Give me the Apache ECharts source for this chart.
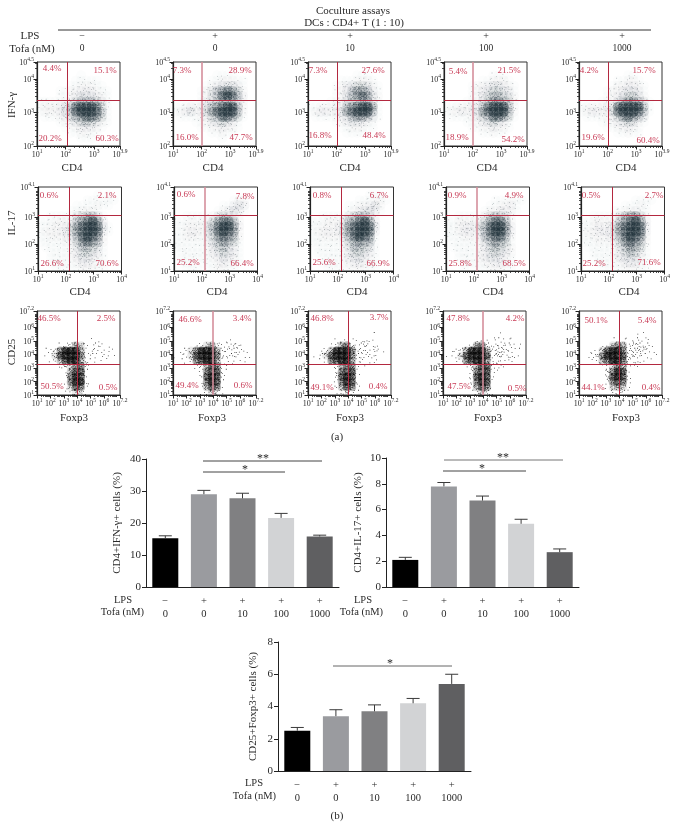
<!DOCTYPE html>
<html><head><meta charset="utf-8"><style>html,body{margin:0;padding:0;background:#fff}#c{width:678px;height:838px}</style>
<script src="https://cdn.jsdelivr.net/npm/echarts@6/dist/echarts.min.js"></script></head><body><div id="c"></div>
<script>
// ---- header / categories
const lpsLabels = ['−','+','+','+','+'];
const tofaLabels = ['0','0','10','100','1000'];
// ---- bar values
const ifnMeans = [15.2,29.0,27.7,21.6,15.8];
const ifnErrors = [0.8,1.2,1.6,1.4,0.4];
const il17Means = [2.1,7.8,6.7,4.9,2.7];
const il17Errors = [0.2,0.3,0.35,0.35,0.25];
const foxMeans = [2.5,3.4,3.7,4.2,5.4];
const foxErrors = [0.2,0.4,0.4,0.3,0.6];
// ---- quadrant percentages [UL, UR, LL, LR]
const ifnPct = [['4.4%','15.1%','20.2%','60.3%'],['7.3%','28.9%','16.0%','47.7%'],['7.3%','27.6%','16.8%','48.4%'],['5.4%','21.5%','18.9%','54.2%'],['4.2%','15.7%','19.6%','60.4%']];
const il17Pct = [['0.6%','2.1%','26.6%','70.6%'],['0.6%','7.8%','25.2%','66.4%'],['0.8%','6.7%','25.6%','66.9%'],['0.9%','4.9%','25.8%','68.5%'],['0.5%','2.7%','25.2%','71.6%']];
const foxPct = [['46.5%','2.5%','50.5%','0.5%'],['46.6%','3.4%','49.4%','0.6%'],['46.8%','3.7%','49.1%','0.4%'],['47.8%','4.2%','47.5%','0.5%'],['50.1%','5.4%','44.1%','0.4%']];
// ---- gates on log10 axes
const ifnGateX = [2.05,2.01,2.01,2.01,2.01], ifnGateY = [3.37,3.37,3.37,3.37,3.37];
const il17GateX = [2.14,2.12,2.12,2.12,2.12], il17GateY = [3.04,3.04,3.04,3.04,3.04];
const foxGateX = [3.99,3.99,3.99,3.99,3.99], foxGateY = [3.29,3.29,3.29,3.29,3.29];
// ---- density of events per cell (0-9); top row first
const ifnDensity = [
['0000000000000000','0000000000000000','0000000010000000','0000000111110000','0000001122211000','0000112233321100','0000112344432100','1111123566654100','1222346899985100','1222346899986100','0111235678875100','0000123456542100','0000011233321000','0000001122110000','0000000011100000','0000000000000000'],
['0000000000000000','0000000000000000','0000000011110000','0000000112221100','0000001234443100','0000012467875200','0000012468986300','0000013456654200','1123234678996200','1234235789996200','0111123568875100','0000112345431000','0000011223221000','0000000112110000','0000000001000000','0000000000000000'],
['0000000000000000','0000000000000000','0000000001110000','0000001112221000','0000012345542100','0000012367763100','0000012467874200','0000112455663100','1122233678997100','1233234789996100','0111123467764100','0000012344321000','0000001122211000','0000000111100000','0000000000000000','0000000000000000'],
['0000000000000000','0000000000000000','0000000001110000','0000000112221000','0000012234432100','0000012345543100','0000012356654200','0000112457765200','1122233689996200','1223234789996200','0111123568875100','0000112345431000','0000011223221000','0000000112110000','0000000000000000','0000000000000000'],
['0000000000000000','0000000000000000','0000000001100000','0000000112210000','0000001223321000','0000012234431000','0000012345542000','0000112467764100','1222234899996100','1233235899986100','0111123578764000','0000112345421000','0000011223210000','0000000112110000','0000000000000000','0000000000000000']];
const il17Density = [
['0000000000000000','0000000000010100','0000000001111110','0000000111121100','0000001122210000','0011112456641000','1112223678973000','1122235789984100','1222335789983100','1122234689872000','1111123578762000','0111112466541000','0011112355431000','0011112344321000','0011111233211000','0001111122211000'],
['0000000000000000','0000000000000000','0000000000012200','0000000001134300','0000000012343100','0011111245431000','1112123578862000','1122224689973000','1123224689872000','1122213578762000','1111113467651000','1111112356431000','0111112345431000','0111111234321000','0111011123211000','0011101122110000'],
['0000000000000000','0000000000011100','0000000001112210','0000000112234200','0000000123443100','0011112456642000','1112224678973000','1122235789984000','1223235789983000','1122224689871000','1111113567661000','0111112466541000','0111112355431000','0011112344321000','0011111233211000','0001111122211000'],
['0000000000000000','0000000000000000','0000000001112110','0000000011223100','0000000122332100','0011111356541000','1122223578862000','1123335689973000','1123324689973000','1112223678862000','0111112467651000','0111112356542000','0011112345432000','0011112344321000','0001111223321000','0001011122211000'],
['0000000000000000','0000000000000000','0000000000111100','0000000011121000','0000001122311000','0011112467752000','1122223678973000','1123235789983000','1223335789983000','1122234689872000','1112123578762000','0111112467651000','0011112356531000','0011112344421000','0001111233311000','0000111122211000']];
const foxDensity = [
['0000000000000000','0000000000000000','0000000000000000','0000000000000000','0000000000000000','0000000000110000','0000134652122100','0124799962222110','0115899973222110','0012689963111100','0000245773100000','0000026882000000','0000027982000000','0000017992000000','0000015871000000','0000013541000000'],
['0000000000000000','0000000000000000','0000000000000000','0000000000000000','0000000000000000','0000000000110000','0000125642233100','0125799963333210','1125899973332110','0113789962111100','0000246873110000','0000027882100000','0000028982000000','0000027982000000','0000016871000000','0000013541000000'],
['0000000000000000','0000000000000000','0000000000000000','0000000000000000','0000000000001000','0000011111221000','0000136742332100','0013699973332210','0125899973332100','0012789962211100','0000146772100000','0000037882000000','0000038982000000','0000027982000000','0000026871000000','0000013431000000'],
['0000000000000000','0000000000000000','0000000000000000','0000000000000000','0000000000010000','0000001111221100','0000136742333210','0124699963443210','1125899983433210','0012789962221100','0000146883220000','0000037882100000','0000038981000000','0000027981000000','0000016871000000','0000013541000000'],
['0000000000000000','0000000000000000','0000000000000000','0000000000000000','0000000000011000','0000001111222100','0000125763343210','0012589973443210','0124799983432110','0012679974221100','0000135762110000','0000047982000000','0000048982000000','0000037872000000','0000015651000000','0000002331000000']];

// ---- layout and style
const SERIF = '"Liberation Serif","Times New Roman",serif';
const RED = '#b3283f', PALE = '#d58f9c', PCT = '#c83a55', INK = '#2a2a2a';
const rows = [
 {name:'IFN-γ',xn:'CD4',dens:ifnDensity,pct:ifnPct,gx:ifnGateX,gy:ifnGateY,xr:[1,3.9],yr:[2,4.5],xt:[1,2,3,3.9],yt:[2,3,4,4.5],top:62,h:84,
  lefts:[37,173,308,444,579],w:83,color:'#1c2d36',pale:[1,3],nameY:105,nameX:[72,213,350,487,626],nameTop:168,
  pos:[[[52,69],[105,71],[50,139],[107,139]],[[182,71],[240,71],[187,138],[241,138]],[[318,71],[373,71],[320,136],[374,136]],[[458,72],[509,71],[457,138],[513,140]],[[589,71],[644,71],[593,138],[648,141]]]},
 {name:'IL-17',xn:'CD4',dens:il17Density,pct:il17Pct,gx:il17GateX,gy:il17GateY,xr:[1,4],yr:[1,4.1],xt:[1,2,3,4],yt:[1,2,3,4.1],top:187,h:84,
  lefts:[38,174,310,446,581],w:83.5,color:'#1c2d36',pale:[1,3],nameY:223,nameX:[80,217,357,493,629],nameTop:292,
  pos:[[[49,196],[107,196],[52,264],[107,264]],[[186,195],[245,197],[188,263],[242,264]],[[322,196],[379,196],[324,263],[378,264]],[[457,196],[514,196],[460,264],[514,264]],[[591,196],[654,196],[594,264],[649,263]]]},
 {name:'CD25',xn:'Foxp3',dens:foxDensity,pct:foxPct,gx:foxGateX,gy:foxGateY,xr:[1,7.2],yr:[1,7.2],xt:[1,2,3,4,5,6,7.2],yt:[1,2,3,4,5,6,7.2],top:311,h:84,
  lefts:[37,173,308,443,579],w:83,color:'#000',pale:[1,3],nameY:352,nameX:[74,212,350,488,626],nameTop:418,
  pos:[[[49,319],[106,319],[52,387],[108,388]],[[190,320],[242,319],[187,386],[243,386]],[[322,319],[379,318],[322,388],[378,387]],[[458,319],[515,319],[459,387],[517,389]],[[596,321],[647,321],[593,388],[651,388]]]}
];
// texture of a cell: a fixed, hand-placed order of specks inside a 5x5 cell
const dotOrder = [[2.3,1.1],[0.4,3.4],[4.1,0.3],[1.2,4.2],[3.3,2.4],[0.2,0.6],[2.6,3.5],[4.2,4.0],[1.4,1.7],[3.4,0.2],[0.1,2.2],[4.3,2.0],[2.1,4.3],[1.5,3.0],[3.5,3.7],[1.9,0.1],[0.7,4.3],[3.1,1.2],[4.0,3.1],[1.0,0.2],[2.2,2.3],[0.7,1.3],[2.9,2.9],[4.2,1.2],[1.2,2.5]];
const countsFine = [0,1,2,3,4,6,8,11,14,18], alphaFine = [0,.35,.4,.45,.5,.55,.6,.68,.76,.85];
const hazeFine = [0,.01,.018,.03,.05,.08,.12,.2,.33,.48];
const countsBlack = [0,1,2,3,5,7,10,13,16,20];
const hazeBlack = [0,0,0,0,0,.08,.16,.28,.42,.58];
const symCache = {};
function cellSymbol(n, off){
  const k = n+'_'+off; if(symCache[k]) return symCache[k];
  let p = 'M0 0L0 0M5 5L5 5';
  for(let i=0;i<n;i++){const d=dotOrder[(i+off)%25]; p+=`M${d[0]} ${d[1]}h.7v.7h-.7z`;}
  return symCache[k]='path://'+p;
}
function logTicks(lo,hi){const t=[];for(let d=Math.floor(lo);d<hi;d++)for(let m=2;m<10;m++){const v=d+Math.log10(m);if(v>lo&&v<hi)t.push(v);}return t;}
const supRich = {a:{fontFamily:SERIF,fontSize:8,color:INK,verticalAlign:'bottom',lineHeight:10},b:{fontFamily:SERIF,fontSize:5.5,color:INK,verticalAlign:'top',lineHeight:10}};
const supFmt = v => `{a|10}{b|${v}}`;

const grid=[],xAxis=[],yAxis=[],series=[],graphic=[];
function txt(text,x,y,o={}){graphic.push({type:'text',x,y,rotation:o.rot||0,silent:true,z:20,style:{text,font:`${o.size||11}px ${SERIF}`,fill:o.color||INK,textAlign:o.align||'center',textVerticalAlign:'middle'}});}
function hline(x1,x2,y,color,w){graphic.push({type:'line',silent:true,z:20,shape:{x1,y1:y,x2,y2:y},style:{stroke:color||'#444',lineWidth:w||1}});}

rows.forEach((R,ri)=>{
  R.lefts.forEach((left,pi)=>{
    const g=grid.length;
    grid.push({left,top:R.top,width:R.w,height:R.h,show:true,borderColor:'#333',borderWidth:1,backgroundColor:'#fff',outerBoundsMode:'none'});
    const ax={xIdx:xAxis.length,yIdx:yAxis.length};
    const mk=(r,t,pos)=>[
      {type:'value',gridIndex:g,min:r[0],max:r[1],position:pos,splitLine:{show:false},axisLine:{show:true,lineStyle:{color:'#222',width:1.2}},
       axisTick:{show:true,length:3.5,customValues:t,lineStyle:{color:'#222',width:1}},
       axisLabel:{show:true,customValues:t,margin:3,formatter:supFmt,rich:supRich,hideOverlap:false}},
      {type:'value',gridIndex:g,min:r[0],max:r[1],position:pos,splitLine:{show:false},axisLine:{show:false},
       axisTick:{show:true,length:2,customValues:logTicks(r[0],r[1]),lineStyle:{color:'#222',width:.8}},axisLabel:{show:false}}];
    xAxis.push(...mk(R.xr,R.xt,'bottom'));
    yAxis.push(...mk(R.yr,R.yt,'left'));
    const nr=16,nc=16,data=[],haze=[];
    const black=ri===2;
    R.dens[pi].forEach((line,r)=>{
      for(let c=0;c<nc;c++){
        const d=+line[c]||0; if(!d) continue;
        const n=(black?countsBlack:countsFine)[d];
        const pt=[R.xr[0]+(c+.5)/nc*(R.xr[1]-R.xr[0]),R.yr[1]-(r+.5)/nr*(R.yr[1]-R.yr[0])];
        data.push({value:pt,symbol:cellSymbol(n,(c*7+r*11+pi*3)%25),itemStyle:{color:R.color,opacity:black?1:alphaFine[d]}});
        const h=(black?hazeBlack:hazeFine)[d];
        if(h>0) haze.push({value:pt,itemStyle:{color:R.color,opacity:h}});
      }
    });
    const pale=R.pale.includes(pi);
    series.push({type:'scatter',xAxisIndex:ax.xIdx,yAxisIndex:ax.yIdx,data:haze,symbol:'circle',symbolSize:black?8:10,silent:true,animation:false,z:1});
    series.push({type:'scatter',xAxisIndex:ax.xIdx,yAxisIndex:ax.yIdx,data,symbolSize:[R.w/nc+.2,R.h/nr+.2],silent:true,animation:false,z:2,
      markLine:{silent:true,symbol:'none',animation:false,label:{show:false},precision:4,data:[
        {xAxis:R.gx[pi],lineStyle:{color:pale?PALE:RED,width:pale?1.6:1,type:'solid'}},
        {yAxis:R.gy[pi],lineStyle:{color:RED,width:1,type:'solid'}}]}});
    R.pct[pi].forEach((s,k)=>txt(s,R.pos[pi][k][0],R.pos[pi][k][1],{size:9,color:PCT}));
    txt(R.xn,R.nameX[pi],R.nameTop,{size:11});
  });
  txt(R.name,12,R.nameY,{size:11,rot:Math.PI/2});
});

// bar charts
const barColors=['#000000','#9a9b9f','#808082','#d2d3d5','#5f5f61'];
function barChart(left,top,height,means,errs,maxV,step,title,titleGap){
  const g=grid.length, xi=xAxis.length, yi=yAxis.length;
  grid.push({left,top,width:193,height,outerBoundsMode:'none'});
  xAxis.push({type:'category',gridIndex:g,data:tofaLabels.map((t,i)=>lpsLabels[i]+'\n'+t),axisLine:{lineStyle:{color:'#222',width:1}},
    axisTick:{alignWithLabel:true,length:3,lineStyle:{color:'#222'}},
    axisLabel:{fontFamily:SERIF,fontSize:10.5,color:INK,margin:8,lineHeight:12.5,interval:0}});
  yAxis.push({type:'value',gridIndex:g,min:0,max:maxV,interval:step,splitLine:{show:false},axisLine:{show:true,lineStyle:{color:'#222',width:1}},
    axisTick:{show:true,length:4,lineStyle:{color:'#222'}},axisLabel:{fontFamily:SERIF,fontSize:11,color:INK,margin:5},
    name:title,nameLocation:'middle',nameRotate:90,nameGap:titleGap,nameTextStyle:{fontFamily:SERIF,fontSize:11,color:INK}});
  series.push({type:'bar',xAxisIndex:xi,yAxisIndex:yi,barWidth:26,animation:false,silent:true,
    data:means.map((v,i)=>({value:v,itemStyle:{color:barColors[i]}}))});
  series.push({type:'custom',xAxisIndex:xi,yAxisIndex:yi,animation:false,silent:true,z:3,
    data:means.map((v,i)=>[i,v,errs[i]]),encode:{x:0,y:1},
    renderItem(p,api){
      const a=api.coord([api.value(0),api.value(1)]), b=api.coord([api.value(0),api.value(1)+api.value(2)]);
      const st={stroke:'#3a3a3a',lineWidth:1,fill:null};
      return {type:'group',children:[
        {type:'line',shape:{x1:a[0],y1:a[1],x2:b[0],y2:b[1]},style:st},
        {type:'line',shape:{x1:b[0]-6.5,y1:b[1],x2:b[0]+6.5,y2:b[1]},style:st}]};
    }});
}
barChart(146,459,128,ifnMeans,ifnErrors,40,10,'CD4+IFN-γ+ cells (%)',23);
barChart(386,458,129,il17Means,il17Errors,10,2,'CD4+IL-17+ cells (%)',22);
barChart(278,642,129,foxMeans,foxErrors,8,2,'CD25+Foxp3+ cells (%)',19);

// header
txt('Coculture assays',353,11);
txt('DCs : CD4+ T (1 : 10)',354,23);
hline(58,651,30,'#333',1);
txt('LPS',30,36);
txt('Tofa (nM)',32,49);
[82,215,350,486,622].forEach((x,i)=>{txt(lpsLabels[i],x,36,{size:10});txt(tofaLabels[i],x,48,{size:9.5});});
txt('(a)',337,437);
txt('(b)',337,816);
// row labels and significance bars
[[144,132,600,612],[383,372,600,612],[276,263,783,796]].forEach(a=>{
  txt('LPS',a[1],a[2],{align:'right',size:10.5});txt('Tofa (nM)',a[0],a[3],{align:'right',size:10.5});
});
hline(203,322,461);hline(203,285,472);txt('**',263,459,{size:12});txt('*',245,470,{size:12});
hline(444,563,460,'#777');hline(443,526,471);txt('**',503,458,{size:12});txt('*',482,469,{size:12});
hline(333,452,666,'#666');txt('*',390,664,{size:12});

const chart=echarts.init(document.getElementById('c'),null,{renderer:'canvas',width:678,height:838});
chart.setOption({animation:false,backgroundColor:'#fff',tooltip:{show:false},grid,xAxis,yAxis,series,graphic});
</script></body></html>
